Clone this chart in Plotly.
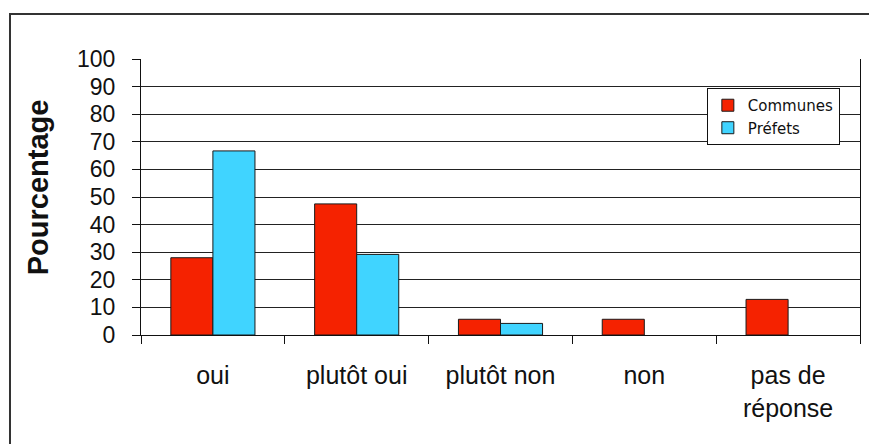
"""
Communes vs Préfets - réponses en pourcentage (bar chart, Excel-style)
"""

import plotly.graph_objects as go

# ── Data ──────────────────────────────────────────────────────────────────────
CATEGORIES = ["oui", "plutôt oui", "plutôt non", "non", "pas de<br>réponse"]
COMMUNES   = [28.0, 47.5, 5.7, 5.7, 12.9]
PREFETS    = [66.7, 29.2, 4.2, None, None]   # no bar drawn for non / pas de réponse
Y_TICKS    = [0, 10, 20, 30, 40, 50, 60, 70, 80, 90, 100]

RED  = "#F52200"
CYAN = "#40D4FF"
INK  = "#111111"

# ── Chart ─────────────────────────────────────────────────────────────────────
fig = go.Figure()

fig.add_trace(go.Bar(
    x=CATEGORIES, y=COMMUNES, name="Communes",
    marker=dict(color=RED, line=dict(color="#1a1a1a", width=1)),
))
fig.add_trace(go.Bar(
    x=CATEGORIES, y=PREFETS, name="Préfets",
    marker=dict(color=CYAN, line=dict(color="#1a1a1a", width=1)),
))

# page body has an 8px margin, so margins are shifted to compensate
fig.update_layout(
    width=877, height=444,
    paper_bgcolor="white",
    plot_bgcolor="white",
    font=dict(family="Liberation Sans, Arial, sans-serif", color=INK),
    margin=dict(l=133, r=25, t=51, b=117),
    barmode="group",
    bargap=0.415,
    bargroupgap=0,
    showlegend=True,

    xaxis=dict(
        showgrid=False, zeroline=False,
        showline=True, linecolor=INK, linewidth=1,
        ticks="outside", tickson="boundaries", ticklen=8, tickcolor=INK,
        tickfont=dict(size=25, color=INK),
        ticklabelstandoff=18,
    ),
    yaxis=dict(
        range=[0, 100],
        tickvals=Y_TICKS,
        showgrid=True, gridcolor="#222", gridwidth=1,
        zeroline=False,
        showline=True, linecolor=INK, linewidth=1, mirror=True,
        ticks="outside", ticklen=8, tickcolor=INK,
        tickfont=dict(size=23, color=INK),
        ticklabelstandoff=12,
    ),

    legend=dict(
        x=0.787, y=0.895, xanchor="left", yanchor="top",
        bgcolor="white", bordercolor=INK, borderwidth=1,
        font=dict(size=15, family="DejaVu Sans, sans-serif", color=INK),
        itemwidth=30,
        tracegroupgap=0,
    ),

    annotations=[dict(
        text="<b>Pourcentage</b>",
        xref="paper", yref="paper",
        x=-0.143, y=0.536,
        xanchor="center", yanchor="middle",
        textangle=-90,
        showarrow=False,
        font=dict(size=29, color=INK),
    )],

    shapes=[dict(
        type="rect", xref="paper", yref="paper",
        x0=-0.1822, y0=-0.45, x1=1.06, y1=1.163,
        line=dict(color="#333", width=2),
        layer="below",
    )],
)

fig.write_html("out.html")
